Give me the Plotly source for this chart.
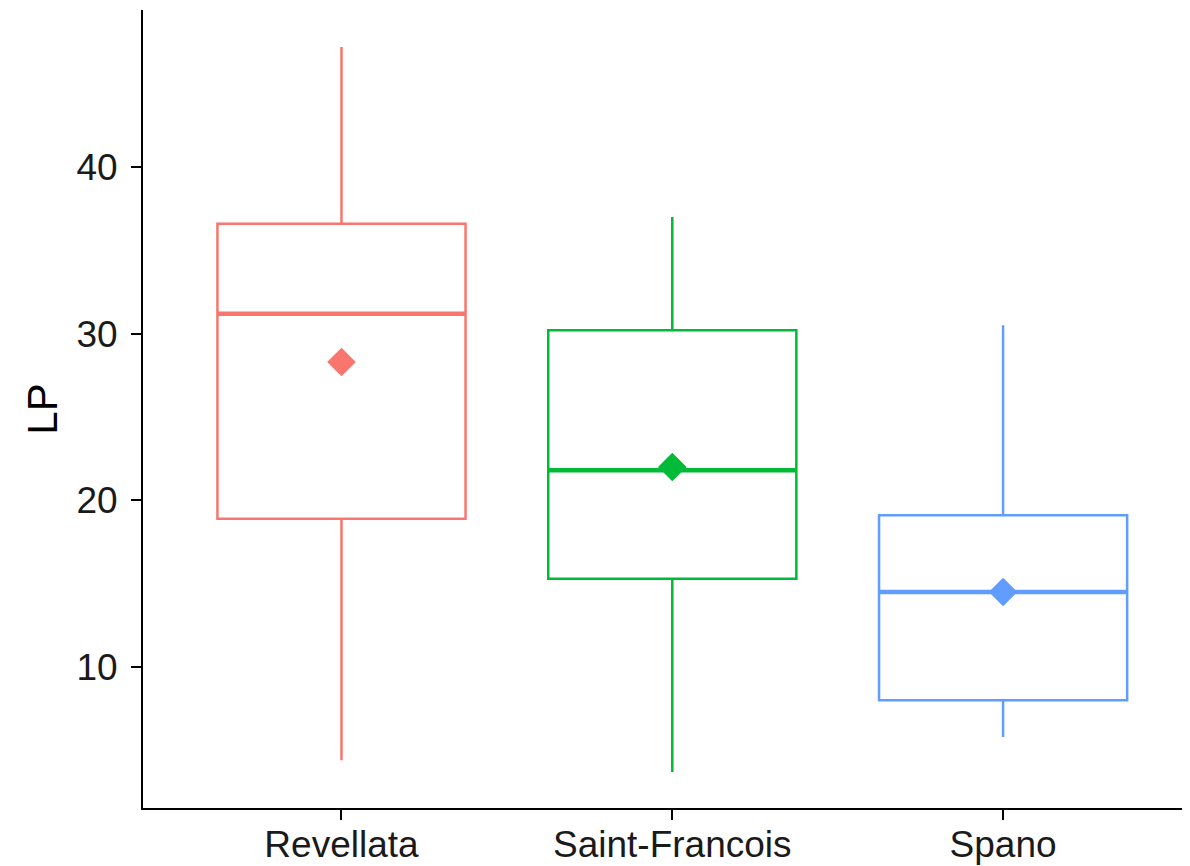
import plotly.graph_objects as go

sites = ['Revellata', 'Saint-Francois', 'Spano']
colors = ['#F8766D', '#00BA38', '#619CFF']

lower = [4.4, 3.7, 5.8]
q1 = [18.9, 15.3, 8.0]
median = [31.2, 21.8, 14.5]
q3 = [36.6, 30.2, 19.1]
upper = [47.2, 37.0, 30.5]
mean = [28.3, 22.0, 14.5]

box_width = 0.75
font = 'Liberation Sans, Arial, sans-serif'

fig = go.Figure()

for i, site in enumerate(sites):
    fig.add_trace(go.Box(
        x=[i], q1=[q1[i]], median=[median[i]], q3=[q3[i]],
        lowerfence=[lower[i]], upperfence=[upper[i]],
        width=box_width, fillcolor='white',
        line=dict(color=colors[i], width=2.5),
        whiskerwidth=0, boxpoints=False,
        name=site, showlegend=False, hoverinfo='skip',
    ))
    # thicker median line, as in ggplot
    fig.add_trace(go.Scatter(
        x=[i - box_width / 2, i + box_width / 2], y=[median[i], median[i]],
        mode='lines', line=dict(color=colors[i], width=4.5),
        showlegend=False, hoverinfo='skip',
    ))
    fig.add_trace(go.Scatter(
        x=[i], y=[mean[i]], mode='markers',
        marker=dict(symbol='diamond', size=22, color=colors[i]),
        showlegend=False, hoverinfo='skip',
    ))

# the page body adds an 8px offset, so the figure is sized to fit the window
fig.update_layout(
    width=1182, height=858,
    margin=dict(l=135, r=0, t=2, b=58),
    paper_bgcolor='white', plot_bgcolor='white',
    font=dict(family=font, size=37, color='#1a1a1a'),
)

fig.update_xaxes(
    range=[-0.6, 2.565],
    tickmode='array', tickvals=list(range(len(sites))), ticktext=sites,
    showgrid=False, zeroline=False, automargin=False,
    showline=True, linecolor='black', linewidth=2,
    ticks='outside', ticklen=10, tickwidth=2, tickcolor='black',
    ticklabelstandoff=-7,
)

fig.update_yaxes(
    range=[1.54, 49.42],
    tickvals=[10, 20, 30, 40],
    showgrid=False, zeroline=False, automargin=False,
    showline=True, linecolor='black', linewidth=2,
    ticks='outside', ticklen=10, tickwidth=2, tickcolor='black',
    ticklabelstandoff=6,
    title=dict(text='LP', font=dict(size=42, color='black'), standoff=6),
)

fig.write_html('out.html')
